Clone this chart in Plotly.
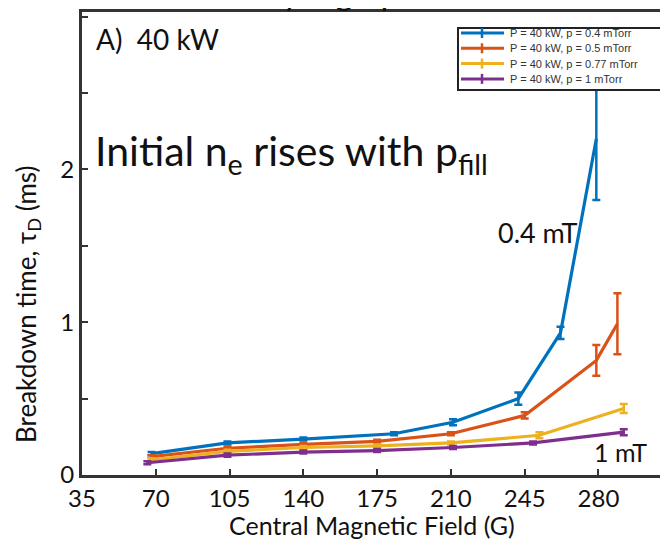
import plotly.graph_objects as go

# ---- data ----
x_04 = [68, 104, 140, 183, 211, 242, 262, 279]
y_04 = [0.14, 0.21, 0.235, 0.27, 0.345, 0.50, 0.93, 2.2]
e_04 = [0.01, 0.01, 0.01, 0.01, 0.02, 0.04, 0.04, 0.40]

x_05 = [68, 104, 140, 175, 210, 245, 279, 289]
y_05 = [0.12, 0.175, 0.20, 0.22, 0.27, 0.39, 0.75, 0.99]
e_05 = [0.01, 0.01, 0.01, 0.01, 0.01, 0.02, 0.10, 0.20]

x_077 = [68, 104, 140, 175, 210, 252, 292]
y_077 = [0.10, 0.155, 0.18, 0.19, 0.21, 0.26, 0.435]
e_077 = [0.01, 0.01, 0.01, 0.01, 0.01, 0.02, 0.03]

x_1 = [66, 104, 140, 175, 211, 249, 292]
y_1 = [0.08, 0.13, 0.15, 0.16, 0.18, 0.21, 0.28]
e_1 = [0.01, 0.01, 0.01, 0.01, 0.01, 0.01, 0.02]

names = ["P = 40 kW, p = 0.4 mTorr", "P = 40 kW, p = 0.5 mTorr",
         "P = 40 kW, p = 0.77 mTorr", "P = 40 kW, p = 1 mTorr"]
colors = ["#0072BD", "#D95319", "#EDB120", "#7E2F8E"]

x_ticks = [35, 70, 105, 140, 175, 210, 245, 280]
y_ticks = [0, 1, 2, 3]

# page body has an 8px margin; lay out in window pixels and shift
OFF = 8
W, H = 668 - OFF, 542 - OFF
PL, PR, PT, PB = 82, 668, 12, 475          # plot area in window pixels
L, T = PL - OFF, PT - OFF
R = W - (PR - OFF)
B = H - (PB - OFF)
PW, PH = PR - PL, PB - PT

fig = go.Figure()
for xs, ys, es, nm, c in zip([x_04, x_05, x_077, x_1], [y_04, y_05, y_077, y_1],
                             [e_04, e_05, e_077, e_1], names, colors):
    fig.add_trace(go.Scatter(
        x=xs, y=ys, mode="lines", name=nm, showlegend=False,
        line=dict(color=c, width=3.2),
        error_y=dict(type="data", array=es, color=c, thickness=2.5, width=4),
    ))

font_main = "Lato, Open Sans, sans-serif"

fig.update_layout(
    width=W, height=H,
    margin=dict(l=L, r=R, t=T, b=B, autoexpand=False),
    paper_bgcolor="white", plot_bgcolor="white",
    showlegend=False,
    xaxis=dict(
        range=[35, 313], tickvals=x_ticks, ticktext=[str(v) for v in x_ticks],
        ticks="inside", ticklen=6, tickwidth=2, tickcolor="#333",
        showline=True, linewidth=3, linecolor="#333", mirror=True,
        showgrid=False, zeroline=False,
        tickfont=dict(family=font_main, size=24, color="#111"),
    ),
    yaxis=dict(
        range=[0, 3.03], tickvals=y_ticks, ticktext=[str(v) for v in y_ticks],
        ticks="inside", ticklen=6, tickwidth=2, tickcolor="#333",
        minor=dict(tickvals=[0.5, 1.5, 2.5], ticks="inside", ticklen=6,
                   tickwidth=2, tickcolor="#333", showgrid=False),
        showline=True, linewidth=3, linecolor="#333", mirror=False,
        showgrid=False, zeroline=False,
        tickfont=dict(family=font_main, size=24, color="#111"),
    ),
)


def px_x(p):
    return (p - PL) / PW


def px_y(p):
    return 1 - (p - PT) / PH


# ---- legend drawn by hand (compact, like the reference) ----
LX0, LX1, LY0, LY1 = 458, 663, 28, 90
fig.add_shape(type="rect", xref="paper", yref="paper", layer="above",
              x0=px_x(LX0), x1=px_x(LX1), y0=px_y(LY1), y1=px_y(LY0),
              fillcolor="white", line=dict(color="#222", width=2))
for i, (nm, c) in enumerate(zip(names, colors)):
    yc = 33 + i * 15.3
    fig.add_shape(type="line", xref="paper", yref="paper", layer="above",
                  x0=px_x(461), x1=px_x(504), y0=px_y(yc), y1=px_y(yc),
                  line=dict(color=c, width=3))
    fig.add_shape(type="line", xref="paper", yref="paper", layer="above",
                  x0=px_x(482), x1=px_x(482), y0=px_y(yc - 5), y1=px_y(yc + 5),
                  line=dict(color=c, width=2.5))
    fig.add_annotation(text=nm, xref="paper", yref="paper", x=px_x(508), y=px_y(yc),
                       xanchor="left", yanchor="middle", showarrow=False,
                       font=dict(family="Liberation Sans Narrow, Liberation Sans, Arial",
                                 size=11, color="#333"))

ann = [
    dict(text="A)  40 kW", x=px_x(94), y=px_y(39), xanchor="left", yanchor="middle", size=28),
    dict(text="Initial n<sub>e</sub> rises with p<sub>fill</sub>", x=px_x(93), y=px_y(153),
         xanchor="left", yanchor="middle", size=41),
    dict(text="0.4 mT", x=px_x(496), y=px_y(232), xanchor="left", yanchor="middle", size=27),
    dict(text="1 mT", x=px_x(592), y=px_y(452), xanchor="left", yanchor="middle", size=25),
    dict(text="Central Magnetic Field (G)", x=px_x(372), y=px_y(525), xanchor="center",
         yanchor="middle", size=25),
]
for a in ann:
    fig.add_annotation(text=a["text"], xref="paper", yref="paper", x=a["x"], y=a["y"],
                       xanchor=a["xanchor"], yanchor=a["yanchor"], showarrow=False,
                       font=dict(family=font_main, size=a["size"], color="#111"))

fig.add_annotation(text="Breakdown time, τ<sub>D</sub> (ms)", xref="paper", yref="paper",
                   x=px_x(27), y=px_y(305), xanchor="center", yanchor="middle",
                   textangle=-90, showarrow=False,
                   font=dict(family=font_main, size=26, color="#111"))

# heading above the chart, cut off at the top edge (only descenders show)
fig.add_annotation(text="by high p", xref="paper", yref="paper",
                   x=px_x(262), y=px_y(14), xanchor="left", yanchor="bottom",
                   showarrow=False, font=dict(family=font_main, size=34, color="#111"))

fig.write_html("out.html")
